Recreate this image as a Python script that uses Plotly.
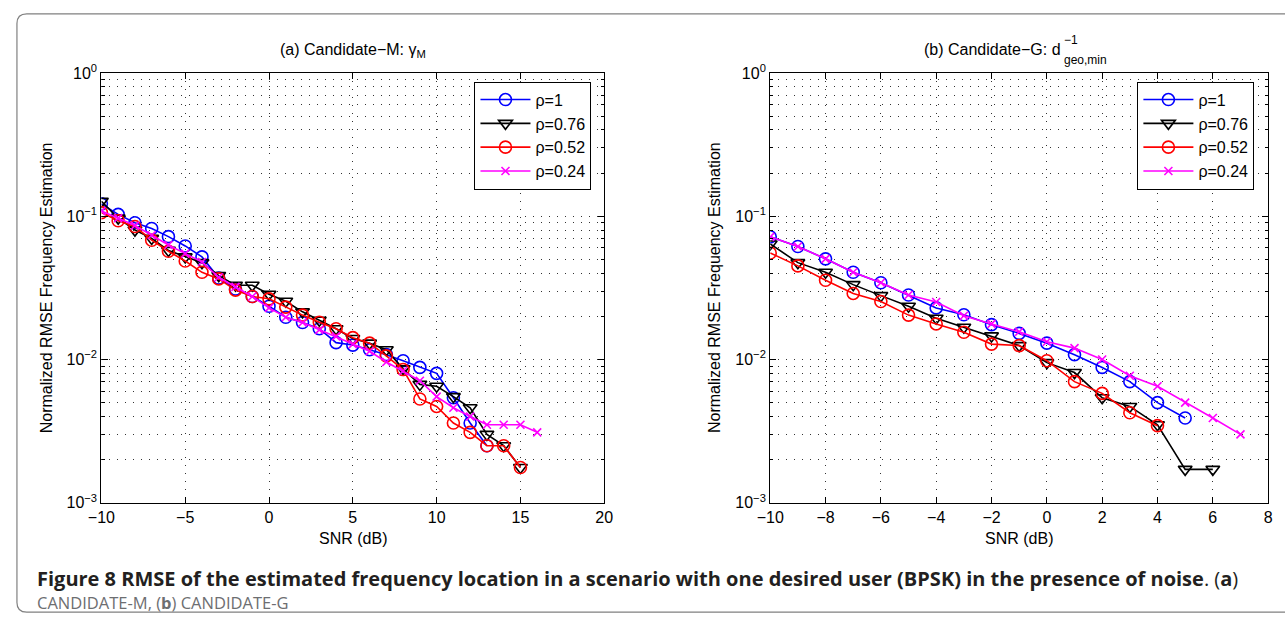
import plotly.graph_objects as go

# ---------------- data ----------------
snr_a = list(range(-10, 17))  # -10 .. 16
a_rho1 = [0.122, 0.103, 0.090, 0.082, 0.072, 0.062, 0.052, 0.037, 0.031, 0.0275, 0.0235, 0.0197,
          0.0181, 0.0164, 0.0131, 0.0126, 0.0117, 0.0108, 0.0098, 0.0088, 0.0080, 0.0054, 0.0036, 0.0025]
a_rho076 = [0.127, 0.097, 0.080, 0.070, 0.0577, 0.052, 0.0474, 0.0385, 0.033, 0.033, 0.0285, 0.0255,
            0.0215, 0.0188, 0.0164, 0.0140, 0.0130, 0.0117, 0.0086, 0.0067, 0.0065, 0.0055, 0.0046,
            0.0030, 0.0025, 0.00176]
a_rho052 = [0.106, 0.093, 0.0847, 0.068, 0.0569, 0.0487, 0.0406, 0.0365, 0.0305, 0.0275, 0.0265,
            0.0232, 0.0204, 0.0182, 0.0164, 0.0142, 0.0130, 0.0106, 0.0085, 0.0053, 0.0047, 0.0036,
            0.0031, 0.0025, 0.0025, 0.00176]
a_rho024 = [0.1086, 0.097, 0.086, 0.0736, 0.063, 0.0548, 0.0479, 0.0375, 0.0321, 0.0275, 0.0229,
            0.0197, 0.0181, 0.0161, 0.0145, 0.0128, 0.0114, 0.0096, 0.0083, 0.0071, 0.0055, 0.0046,
            0.0040, 0.0035, 0.0035, 0.0035, 0.0031]

snr_b = list(range(-10, 8))  # -10 .. 7
b_rho1 = [0.0718, 0.0615, 0.0504, 0.0406, 0.0343, 0.0282, 0.0229, 0.0205, 0.0175, 0.0152,
          0.0130, 0.0108, 0.0088, 0.0070, 0.0050, 0.0039]
b_rho076 = [0.064, 0.0474, 0.0406, 0.0333, 0.0279, 0.0235, 0.0194, 0.0168, 0.0146, 0.0125,
            0.0095, 0.0081, 0.0054, 0.0047, 0.0035, 0.00171, 0.00171]
b_rho052 = [0.0554, 0.045, 0.0357, 0.0289, 0.0254, 0.0204, 0.0177, 0.0155, 0.0128, 0.0125,
            0.0098, 0.0070, 0.0058, 0.00425, 0.00345]
b_rho024 = [0.0718, 0.0615, 0.0504, 0.0406, 0.0343, 0.0282, 0.0252, 0.0202, 0.0177, 0.0156,
            0.0133, 0.0120, 0.0100, 0.0077, 0.0065, 0.0050, 0.0039, 0.0030]

names = ["ρ=1", "ρ=0.76", "ρ=0.52", "ρ=0.24"]
colors = ["#0000FF", "#000000", "#FF0000", "#FF00FF"]
symbols = ["circle-open", "triangle-down-open", "circle-open", "x-thin-open"]
sizes = [12, 12, 12, 8]

xt_a = [-10, -5, 0, 5, 10, 15, 20]
xt_b = [-10, -8, -6, -4, -2, 0, 2, 4, 6, 8]
yt = [1e-3, 1e-2, 1e-1, 1]
yt_text = ["10<sup>−3</sup>", "10<sup>−2</sup>", "10<sup>−1</sup>", "10<sup>0</sup>"]

# ---------------- layout helpers ----------------
W, H = 1285, 624
def px(x):
    return x / W
def py(y):
    return 1 - y / H

FONT = "Liberation Sans, Arial, sans-serif"
fig = go.Figure()

series_a = [a_rho1, a_rho076, a_rho052, a_rho024]
series_b = [b_rho1, b_rho076, b_rho052, b_rho024]
for i in range(4):
    fig.add_trace(go.Scatter(
        x=snr_a[:len(series_a[i])], y=series_a[i], name=names[i], mode="lines+markers",
        line=dict(color=colors[i], width=1.6),
        marker=dict(symbol=symbols[i], size=sizes[i], color=colors[i],
                    line=dict(width=1.6, color=colors[i])),
        xaxis="x", yaxis="y", legend="legend"))
for i in range(4):
    fig.add_trace(go.Scatter(
        x=snr_b[:len(series_b[i])], y=series_b[i], name=names[i], mode="lines+markers",
        line=dict(color=colors[i], width=1.6),
        marker=dict(symbol=symbols[i], size=sizes[i], color=colors[i],
                    line=dict(width=1.6, color=colors[i])),
        xaxis="x2", yaxis="y2", legend="legend2"))

minor_vals = [m * 10 ** e for e in (-3, -2, -1) for m in range(2, 10)]
GRID = dict(gridcolor="#333333", griddash="1px,7px", gridwidth=1)
grid_common = dict(showgrid=True, **GRID,
                   showline=True, linecolor="black", linewidth=1.3, mirror="ticks",
                   ticks="inside", ticklen=6, tickcolor="black", tickwidth=1,
                   zeroline=False, tickfont=dict(family=FONT, size=16, color="black"))

ydom = [py(508), py(64)]
ycommon = dict(grid_common, type="log", range=[-3, 0], tickmode="array", tickvals=yt,
               ticktext=yt_text, domain=ydom,
               minor=dict(tickmode="array", tickvals=minor_vals, ticks="inside", ticklen=3,
                          tickcolor="black", showgrid=True, **GRID))

fig.update_layout(
    width=W, height=H, autosize=False,
    margin=dict(l=0, r=0, t=0, b=0),
    paper_bgcolor="white", plot_bgcolor="white",
    font=dict(family=FONT, size=16, color="black"),
    xaxis=dict(grid_common, domain=[px(89), px(601)], range=[-10, 20], tickmode="array",
               tickvals=xt_a, ticktext=[str(v).replace("-", "−") for v in xt_a], anchor="y"),
    yaxis=dict(ycommon, anchor="x"),
    xaxis2=dict(grid_common, domain=[px(770), px(1277)], range=[-10, 8], tickmode="array",
                tickvals=xt_b, ticktext=[str(v).replace("-", "−") for v in xt_b], anchor="y2"),
    yaxis2=dict(ycommon, anchor="x2"),
    legend=dict(x=px(588), y=py(73), xanchor="right", yanchor="top", bgcolor="white",
                bordercolor="black", borderwidth=1, itemwidth=50,
                font=dict(family=FONT, size=16, color="black"), tracegroupgap=0),
    legend2=dict(x=px(1263), y=py(73), xanchor="right", yanchor="top", bgcolor="white",
                 bordercolor="black", borderwidth=1, itemwidth=50,
                 font=dict(family=FONT, size=16, color="black"), tracegroupgap=0),
    showlegend=True,
)

def note(text, x, y, xa="center", ya="middle", size=16, family=FONT, color="black", angle=0):
    return dict(text=text, x=px(x), y=py(y), xref="paper", yref="paper", xanchor=xa,
                yanchor=ya, showarrow=False, textangle=angle,
                font=dict(family=family, size=size, color=color))

ann = []
# axis titles
for xc in (345, 1023.5):
    ann.append(note("SNR (dB)", xc, 545))
for xc in (33, 714):
    ann.append(note("Normalized RMSE Frequency Estimation", xc, 286, angle=-90))
# panel titles
ann.append(note("(a) Candidate−M: γ<sub>M</sub>", 345, 41))
ann.append(note("(b) Candidate−G: d", 1068, 40, xa="right"))
ann.append(note("−1", 1067, 30, xa="left", size=12))
ann.append(note("geo,min", 1067, 51, xa="left", size=12))
# caption
CAP = "Open Sans, Noto Sans, sans-serif"
ann.append(note("<b>Figure 8 RMSE of the estimated frequency location in a scenario with one "
                "desired user (BPSK) in the presence of noise</b>. (<b>a</b>)",
                21, 586, xa="left", size=20, family=CAP, color="#231f20"))
ann.append(note("CANDIDATE-M, (<b>b</b>) CANDIDATE-G",
                21, 611, xa="left", size=16.5, family=CAP, color="#6d6e71"))
fig.update_layout(annotations=ann)

# outer rounded frame
r = 10
x0, y0, x1, y1 = 3, 3, 1295, 621
path = (f"M {px(x1)},{py(y0)} L {px(x0 + r)},{py(y0)} Q {px(x0)},{py(y0)} {px(x0)},{py(y0 + r)} "
        f"L {px(x0)},{py(y1 - r)} Q {px(x0)},{py(y1)} {px(x0 + r)},{py(y1)} L {px(x1)},{py(y1)}")
fig.add_shape(type="path", path=path, xref="paper", yref="paper",
              line=dict(color="#808080", width=1.2))

fig.write_html("out.html")
